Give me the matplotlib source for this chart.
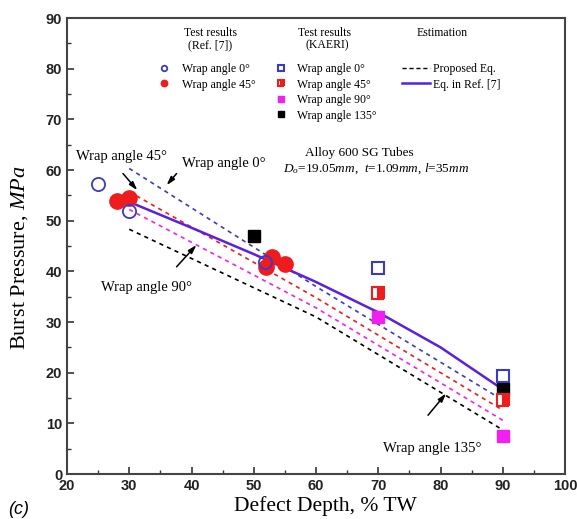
import numpy as np
import matplotlib
matplotlib.use('Agg')
import matplotlib.pyplot as plt
from matplotlib.lines import Line2D

plt.rcParams['font.family'] = 'Liberation Serif'
plt.rcParams['mathtext.fontset'] = 'custom'
plt.rcParams['mathtext.rm'] = 'Liberation Serif'
plt.rcParams['mathtext.it'] = 'Liberation Serif:italic'

# Test results from Ref. [7]
ref_0_x = [25, 30, 51.8]
ref_0_y = [57.2, 51.9, 41.9]
ref_45_x = [28, 30, 53, 52, 55]
ref_45_y = [53.9, 54.5, 42.9, 40.9, 41.4]

# KAERI test results
kaeri_0_x = [70, 90]
kaeri_0_y = [40.6, 19.4]
kaeri_45_x = [70, 90]
kaeri_45_y = [35.8, 14.7]
kaeri_90_x = [70, 90]
kaeri_90_y = [31.0, 7.5]
kaeri_135_x = [50, 90]
kaeri_135_y = [47.0, 16.7]

# Proposed equation, one curve per wrap angle
est_x = [30, 60, 90]
est_0 = [60.3, 37.0, 14.6]
est_45 = [55.7, 34.8, 12.6]
est_90 = [52.2, 32.8, 10.6]
est_135 = [48.3, 31.0, 8.7]

# Equation in Ref. [7]
ref_eq_x = [30, 40, 50, 60, 70, 80, 90]
ref_eq_y = [53.7, 48.6, 43.4, 37.9, 31.9, 25.0, 16.7]

BLUE = '#3a3ac8'
RED = '#ee1c1c'
MAGENTA = '#f020f0'
PURPLE = '#5a1fe0'

fig = plt.figure(figsize=(5.77, 5.19), dpi=100)
ax = fig.add_axes([67 / 577, 1 - 474 / 519, (565 - 67) / 577, (474 - 18) / 519])

dash = dict(lw=1.2, linestyle=(0, (2.5, 2.5)))
ax.plot(est_x, est_0, color=BLUE, **dash)
ax.plot(est_x, est_45, color=RED, **dash)
ax.plot(est_x, est_90, color=MAGENTA, **dash)
ax.plot(est_x, est_135, color='black', **dash)
eq_line, = ax.plot(ref_eq_x, ref_eq_y, color=PURPLE, lw=1.8, label='Eq. in Ref. [7]')

ms = 9.5
h_r45, = ax.plot(ref_45_x, ref_45_y, 'o', ms=11, color=RED, mec=RED,
                 label='Wrap angle 45°')
h_r0, = ax.plot(ref_0_x, ref_0_y, 'o', ms=ms, mfc='none', mec=BLUE, mew=1.3,
                label='Wrap angle 0°')
h_k135, = ax.plot(kaeri_135_x, kaeri_135_y, 's', ms=9, color='black',
                  label='Wrap angle 135°')
h_k0, = ax.plot(kaeri_0_x, kaeri_0_y, 's', ms=9, mfc='white', mec=BLUE, mew=1.5,
                label='Wrap angle 0°')
h_k45, = ax.plot(kaeri_45_x, kaeri_45_y, 's', ms=9, fillstyle='right', mfc=RED,
                 mfcalt='white', mec=RED, mew=1.5, label='Wrap angle 45°')
h_k90, = ax.plot(kaeri_90_x, kaeri_90_y, 's', ms=9, color=MAGENTA,
                 label='Wrap angle 90°')

ax.set_xlim(20, 100)
ax.set_ylim(0, 90)
ax.set_xticks(np.arange(20, 101, 10))
ax.set_xticks(np.arange(25, 100, 10), minor=True)
ax.set_yticks(np.arange(0, 91, 10))
ax.set_yticks(np.arange(5, 90, 10), minor=True)
ax.tick_params(which='both', direction='in', top=False, right=False, colors='#333333')
ax.tick_params(which='major', length=5, width=1.2, labelsize=10.5)
ax.tick_params(which='minor', length=3, width=1.0)
for lab in ax.get_xticklabels() + ax.get_yticklabels():
    lab.set_family('Liberation Sans')
    lab.set_fontweight('bold')
    lab.set_color('#222222')
for sp in ax.spines.values():
    sp.set_color('#444444')
    sp.set_linewidth(1.5)

ax.set_xlabel('Defect Depth, % TW', fontsize=15.5)
ax.set_ylabel('Burst Pressure, $MPa$', fontsize=16)
ax.xaxis.set_label_coords(0.518, -0.048)
ax.yaxis.set_label_coords(-0.074, 0.474)

# legend blocks
leg_kw = dict(frameon=False, fontsize=8.5, markerscale=0.42, borderpad=0,
              borderaxespad=0, labelspacing=0.3, loc='upper left',
              bbox_transform=fig.transFigure)
top = 1 - 63 / 519
leg1 = ax.legend(handles=[h_r0, h_r45], handlelength=1.0, handletextpad=1.0,
                 bbox_to_anchor=(158 / 577, top), **leg_kw)
ax.add_artist(leg1)
leg2 = ax.legend(handles=[h_k0, h_k45, h_k90, h_k135], handlelength=1.0,
                 handletextpad=0.9, bbox_to_anchor=(275 / 577, top), **leg_kw)
ax.add_artist(leg2)
prop_line = Line2D([], [], color='black', lw=1.0, linestyle=(0, (3, 2)), label='Proposed Eq.')
ax.legend(handles=[prop_line, eq_line], handlelength=2.4, handletextpad=0.2,
          bbox_to_anchor=(402 / 577, top), **leg_kw)

hdr = dict(transform=fig.transFigure, ha='center', va='center', fontsize=8.5)
fig.text(210 / 577, 1 - 33 / 519, 'Test results', **hdr)
fig.text(210 / 577, 1 - 45 / 519, '(Ref. [7])', **hdr)
fig.text(325 / 577, 1 - 33 / 519, 'Test results', **hdr)
fig.text(327 / 577, 1 - 45 / 519, '(KAERI)', **hdr)
fig.text(442 / 577, 1 - 33 / 519, 'Estimation', **hdr)

# tube geometry note
ax.text(58.2, 63.4, 'Alloy 600 SG Tubes', fontsize=9.5, ha='left', va='center')
ax.text(54.7, 60.2, r'$D_o$=19.05$mm$,  $t$=1.09$mm$, $l$=35$mm$',
        fontsize=9.5, ha='left', va='center')

# wrap angle labels and arrows
arrow = dict(arrowstyle='-|>,head_length=0.5,head_width=0.15', color='black', lw=1.1,
             shrinkA=0, shrinkB=0)
ax.annotate('', xy=(31.3, 56.0), xytext=(29.0, 59.3), arrowprops=arrow)
ax.text(28.7, 62.6, 'Wrap angle 45°', fontsize=10.5, ha='center', va='center')
ax.annotate('', xy=(36.0, 57.0), xytext=(37.6, 59.3), arrowprops=arrow)
ax.text(38.5, 61.2, 'Wrap angle 0°', fontsize=10.5, ha='left', va='center')
ax.annotate('', xy=(40.8, 45.2), xytext=(37.6, 40.9), arrowprops=arrow)
ax.text(32.8, 36.9, 'Wrap angle 90°', fontsize=10.5, ha='center', va='center')
ax.annotate('', xy=(80.9, 15.9), xytext=(78.0, 11.6), arrowprops=arrow)
ax.text(78.7, 5.1, 'Wrap angle 135°', fontsize=10.5, ha='center', va='center')

fig.text(8 / 577, 1 - 510 / 519, '(c)', fontsize=13, family='Liberation Sans',
         style='italic', va='center')

fig.savefig('out.png', dpi=100)
